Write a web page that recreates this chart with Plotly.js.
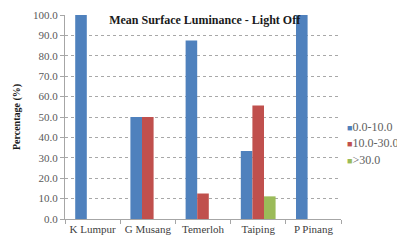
<!DOCTYPE html>
<html><head><meta charset="utf-8">
<script src="https://cdn.plot.ly/plotly-3.0.1.min.js"></script>
<style>html,body{margin:0;padding:0;background:#fff;}#chart{width:397px;height:244px;}</style>
</head><body><div id="chart"></div>
<script>
const categories = ["K Lumpur", "G Musang", "Temerloh", "Taiping", "P Pinang"];
const seriesNames = ["0.0-10.0", "10.0-30.0", ">30.0"];
const low = [100.0, 50.0, 87.5, 33.3, 100.0];
const mid = [0.0, 50.0, 12.5, 55.6, 0.0];
const high = [0.0, 0.0, 0.0, 11.1, 0.0];
const colors = ["#4F81BD", "#C0504D", "#9BBB59"];

const serif = "Liberation Serif, Times New Roman, serif";
const data = [low, mid, high].map((vals, i) => ({
  type: "bar", x: categories, y: vals, name: seriesNames[i],
  marker: {color: colors[i]}, hoverinfo: "none", showlegend: false
}));

// legend drawn as annotations so it can run past the right edge like the original
const legendAnn = seriesNames.map((n, i) => ({
  xref: "paper", yref: "paper", x: 1.0 + 4/276, y: (219 - (126.7 + i * 16.7)) / 204,
  xanchor: "left", yanchor: "middle", showarrow: false,
  text: '<span style="color:' + colors[i] + ';font-size:9px">■</span>' + n,
  font: {family: serif, size: 12, color: "#606060"}
}));

const layout = {
  width: 397, height: 244,
  margin: {l: 65, r: 56, t: 15, b: 25},
  paper_bgcolor: "#fff", plot_bgcolor: "#fff",
  barmode: "group", bargap: 0.37, bargroupgap: 0,
  font: {family: serif, size: 11, color: "#595959"},
  title: {text: "<b>Mean Surface Luminance - Light Off</b>", font: {family: serif, size: 12, color: "#1a1a1a"},
          x: 0.506, xref: "paper", xanchor: "center", y: 0.918, yanchor: "middle"},
  xaxis: {showline: true, linecolor: "#a6a6a6", linewidth: 1, ticks: "outside", tickson: "boundaries",
          ticklen: 4, tickcolor: "#a6a6a6", showgrid: false, tickangle: 0,
          tickfont: {family: serif, size: 11, color: "#404040"}, fixedrange: true},
  yaxis: {range: [0, 100], dtick: 10, tickformat: ".1f", showline: true, linecolor: "#a6a6a6", linewidth: 1,
          ticks: "outside", ticklen: 4, tickcolor: "#a6a6a6", showgrid: true, gridcolor: "#a8a8a8",
          griddash: "3px,3px", gridwidth: 1, zeroline: false,
          tickfont: {family: serif, size: 11, color: "#595959"},
          title: {text: "<b>Percentage (%)</b>", font: {family: serif, size: 10, color: "#1a1a1a"}, standoff: 10},
          fixedrange: true},
  annotations: legendAnn,
  showlegend: false
};
Plotly.newPlot("chart", data, layout, {displayModeBar: false, staticPlot: true});
</script></body></html>
